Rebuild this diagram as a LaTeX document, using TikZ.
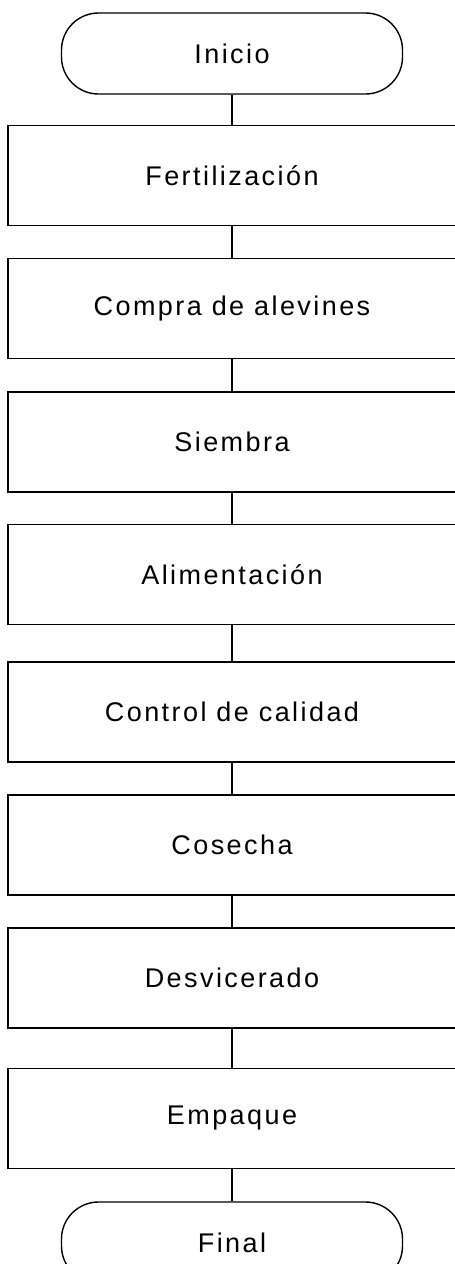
\documentclass[tikz,border=0pt]{standalone}
\usepackage{fontspec}
\setmainfont{Liberation Sans}[LetterSpace=9]
\begin{document}
\begin{tikzpicture}[x=1pt,y=-1pt,
  every node/.style={font=\fontsize{27}{30}\selectfont, inner sep=0pt},
  stepbox/.style={draw, line width=1.6pt, minimum width=447.5pt, minimum height=100pt},
  term/.style={draw, line width=1.4pt, rounded corners=37pt, minimum width=341pt, minimum height=81pt},
  link/.style={line width=1.6pt}]
\useasboundingbox (0,0) rectangle (455,1264);
\clip (0,0) rectangle (455,1264);
\node[term] (ini) at (232,53.5) {Inicio};
\node[stepbox] (b1) at (232,175.5) {Fertilización};
\node[stepbox] (b2) at (232,308.3) {Compra de alevines};
\node[stepbox] (b3) at (232,441.7) {Siembra};
\node[stepbox] (b4) at (232,574.3) {Alimentación};
\node[stepbox] (b5) at (232,711.7) {Control de calidad};
\node[stepbox] (b6) at (232,844.7) {Cosecha};
\node[stepbox] (b7) at (232,977.7) {Desvicerado};
\node[stepbox] (b8) at (232,1118.3) {Empaque};
\node[term] (fin) at (232,1242.5) {Final};
\draw[link] (ini.south) -- (b1.north);
\draw[link] (b1.south) -- (b2.north);
\draw[link] (b2.south) -- (b3.north);
\draw[link] (b3.south) -- (b4.north);
\draw[link] (b4.south) -- (b5.north);
\draw[link] (b5.south) -- (b6.north);
\draw[link] (b6.south) -- (b7.north);
\draw[link] (b7.south) -- (b8.north);
\draw[link] (b8.south) -- (fin.north);
\end{tikzpicture}
\end{document}
